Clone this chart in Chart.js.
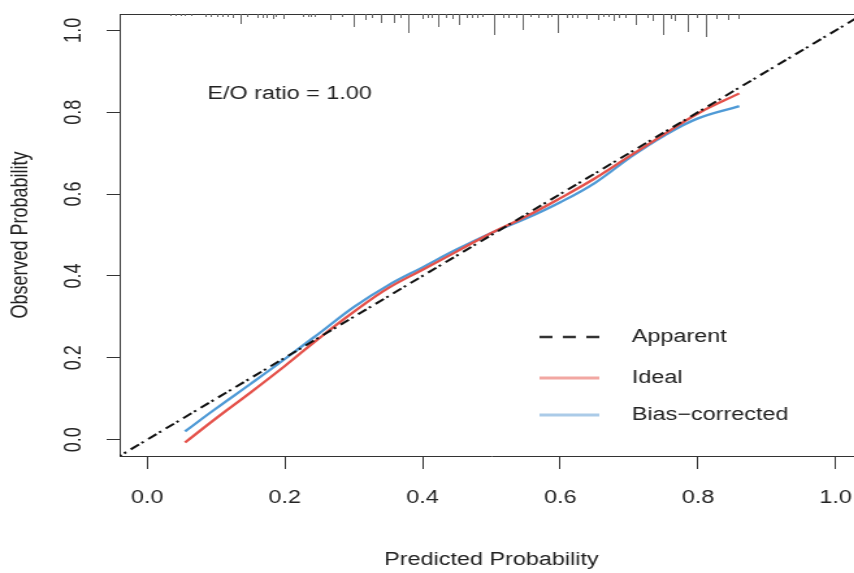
<!DOCTYPE html>
<html>
<head>
<meta charset="utf-8">
<script src="https://cdn.jsdelivr.net/npm/chart.js@4"></script>
<style>
  body { margin: 0; overflow: hidden; background: #fff; }
  /* the reference picture is stretched sideways, so the whole chart is too */
  #wrap { width: 680px; height: 573px; transform: scaleX(1.3); transform-origin: 0 0; }
</style>
</head>
<body>
<div id="wrap"><canvas id="calib" width="680" height="573"></canvas></div>
<script>
// data
const predX = [0.055, 0.10, 0.15, 0.20, 0.25, 0.30, 0.35, 0.40, 0.45, 0.50, 0.55, 0.60, 0.65, 0.70, 0.75, 0.80, 0.86];
const apparent = [-0.007, 0.052, 0.115, 0.18, 0.248, 0.312, 0.37, 0.415, 0.46, 0.505, 0.545, 0.59, 0.638, 0.692, 0.745, 0.797, 0.846];
const biasCorrected = [0.02, 0.076, 0.136, 0.197, 0.26, 0.324, 0.377, 0.421, 0.465, 0.505, 0.54, 0.58, 0.627, 0.688, 0.742, 0.785, 0.815];
const diagX = [-0.1, 1.1];

// spike histogram of predictions along the top
const rugX = [0.033, 0.041, 0.048, 0.055, 0.063, 0.084, 0.092, 0.102, 0.109, 0.116, 0.124, 0.135, 0.145, 0.160, 0.167, 0.174, 0.182, 0.186, 0.198,
  0.227, 0.234, 0.237, 0.244, 0.266, 0.283, 0.299, 0.317, 0.327, 0.339, 0.358, 0.368, 0.379, 0.400, 0.407, 0.414, 0.423, 0.433, 0.443, 0.453,
  0.465, 0.472, 0.480, 0.487, 0.503, 0.517, 0.525, 0.535, 0.545, 0.557, 0.568, 0.581, 0.586, 0.596, 0.610, 0.618, 0.625, 0.637, 0.654, 0.663,
  0.669, 0.677, 0.685, 0.695, 0.709, 0.727, 0.735, 0.750, 0.760, 0.767, 0.785, 0.799, 0.811, 0.826, 0.843, 0.858];
const rugN = [1, 1, 1, 1, 1, 2, 2, 2, 2, 2, 3, 9, 2, 3, 3, 3, 4, 2, 4,
  2, 2, 2, 2, 5, 2, 12, 5, 3, 8, 8, 3, 18, 4, 3, 3, 12, 3, 4, 10,
  3, 3, 3, 2, 20, 3, 3, 3, 15, 2, 3, 3, 2, 18, 3, 3, 3, 4, 5, 2,
  2, 6, 3, 3, 10, 3, 6, 20, 4, 6, 17, 3, 22, 4, 5, 4];

const xTicks = [0, 0.2, 0.4, 0.6, 0.8, 1.0];
const yTicks = [0, 0.2, 0.4, 0.6, 0.8, 1.0];
const legendLabels = ['Apparent', 'Ideal', 'Bias\u2212corrected'];
const eoText = 'E/O ratio = 1.00';

const FONT = '"Liberation Sans", Arial, sans-serif';
const INK = '#222';

function pts(xs, ys) {
    return xs.map(function (x, i) { return { x: x, y: ys[i] }; });
}

const extras = {
    id: 'extras',
    afterDatasetsDraw: function (chart) {
        const ctx = chart.ctx;
        const a = chart.chartArea;
        const xs = chart.scales.x;
        const ys = chart.scales.y;
        ctx.save();

        // box top + right
        ctx.strokeStyle = '#333';
        ctx.lineWidth = 1;
        ctx.beginPath();
        ctx.moveTo(a.left, a.top + 0.5);
        ctx.lineTo(a.right, a.top + 0.5);
        ctx.lineTo(a.right, a.bottom);
        ctx.stroke();

        // rug
        ctx.strokeStyle = '#666';
        ctx.beginPath();
        rugX.forEach(function (v, i) {
            const px = Math.round(xs.getPixelForValue(v)) + 0.5;
            ctx.moveTo(px, a.top);
            ctx.lineTo(px, a.top + 1 + rugN[i]);
        });
        ctx.stroke();

        ctx.fillStyle = INK;
        ctx.font = '18px ' + FONT;

        // y tick labels, turned like R does
        ctx.textAlign = 'center';
        ctx.textBaseline = 'middle';
        yTicks.forEach(function (v) {
            ctx.save();
            ctx.translate(57, ys.getPixelForValue(v));
            ctx.rotate(-Math.PI / 2);
            ctx.fillText(v.toFixed(1), 0, 0);
            ctx.restore();
        });

        // E/O text
        ctx.fillText(eoText, xs.getPixelForValue(0.207), ys.getPixelForValue(0.845));

        // legend
        const lx0 = a.left + 323, lx1 = a.left + 369, tx = a.left + 394;
        const rows = [a.top + 323, a.top + 364, a.top + 401];
        const styles = [
            { c: '#333', w: 2.5, d: [10, 8] },
            { c: '#f2a7a2', w: 3, d: [] },
            { c: '#abcbe8', w: 3, d: [] }
        ];
        ctx.textAlign = 'left';
        rows.forEach(function (ry, i) {
            ctx.strokeStyle = styles[i].c;
            ctx.lineWidth = styles[i].w;
            ctx.setLineDash(styles[i].d);
            ctx.beginPath();
            ctx.moveTo(lx0, ry);
            ctx.lineTo(lx1, ry);
            ctx.stroke();
            ctx.fillText(legendLabels[i], tx, ry);
        });
        ctx.restore();
    }
};

var calib = document.getElementById('calib').getContext('2d');
var myChart = new Chart(calib, {
    type: 'scatter',
    data: {
        datasets: [{
            label: 'diag',
            data: pts(diagX, diagX),
            showLine: true,
            borderColor: '#111',
            borderWidth: 2,
            borderDash: [8, 2.5, 2, 4.5],
            pointRadius: 0
        }, {
            label: 'Apparent',
            data: pts(predX, apparent),
            showLine: true,
            borderColor: '#e4514a',
            borderWidth: 2.3,
            tension: 0.4,
            pointRadius: 0
        }, {
            label: 'Bias-corrected',
            data: pts(predX, biasCorrected),
            showLine: true,
            borderColor: '#4f9ad6',
            borderWidth: 2.3,
            tension: 0.4,
            pointRadius: 0
        }]
    },
    options: {
        responsive: false,
        animation: false,
        devicePixelRatio: 1,
        layout: { padding: { top: 14, right: 16, left: 0, bottom: 0 } },
        plugins: { legend: { display: false }, tooltip: { enabled: false } },
        scales: {
            x: {
                type: 'linear',
                min: -0.04,
                max: 1.04,
                afterBuildTicks: function (s) { s.ticks = xTicks.map(function (v) { return { value: v }; }); },
                afterFit: function (s) { s.height = 117; },
                ticks: {
                    autoSkip: false,
                    maxRotation: 0,
                    padding: 18,
                    color: INK,
                    font: { family: FONT, size: 18 },
                    callback: function (v) { return Number(v).toFixed(1); }
                },
                grid: { drawOnChartArea: false, drawTicks: true, tickLength: 13, color: '#333' },
                border: { color: '#333', width: 1 },
                title: {
                    display: true,
                    text: 'Predicted Probability',
                    color: INK,
                    font: { family: FONT, size: 18 },
                    padding: { top: 0, bottom: 2 }
                }
            },
            y: {
                type: 'linear',
                min: -0.04,
                max: 1.04,
                afterBuildTicks: function (s) { s.ticks = yTicks.map(function (v) { return { value: v }; }); },
                afterFit: function (s) { s.width = 92; },
                ticks: { display: false },
                grid: { drawOnChartArea: false, drawTicks: true, tickLength: 10, color: '#333' },
                border: { color: '#333', width: 1 },
                title: {
                    display: true,
                    text: 'Observed Probability',
                    color: INK,
                    font: { family: FONT, size: 18 },
                    padding: { top: 5, bottom: 0 }
                }
            }
        }
    },
    plugins: [extras]
});
</script>
</body>
</html>
